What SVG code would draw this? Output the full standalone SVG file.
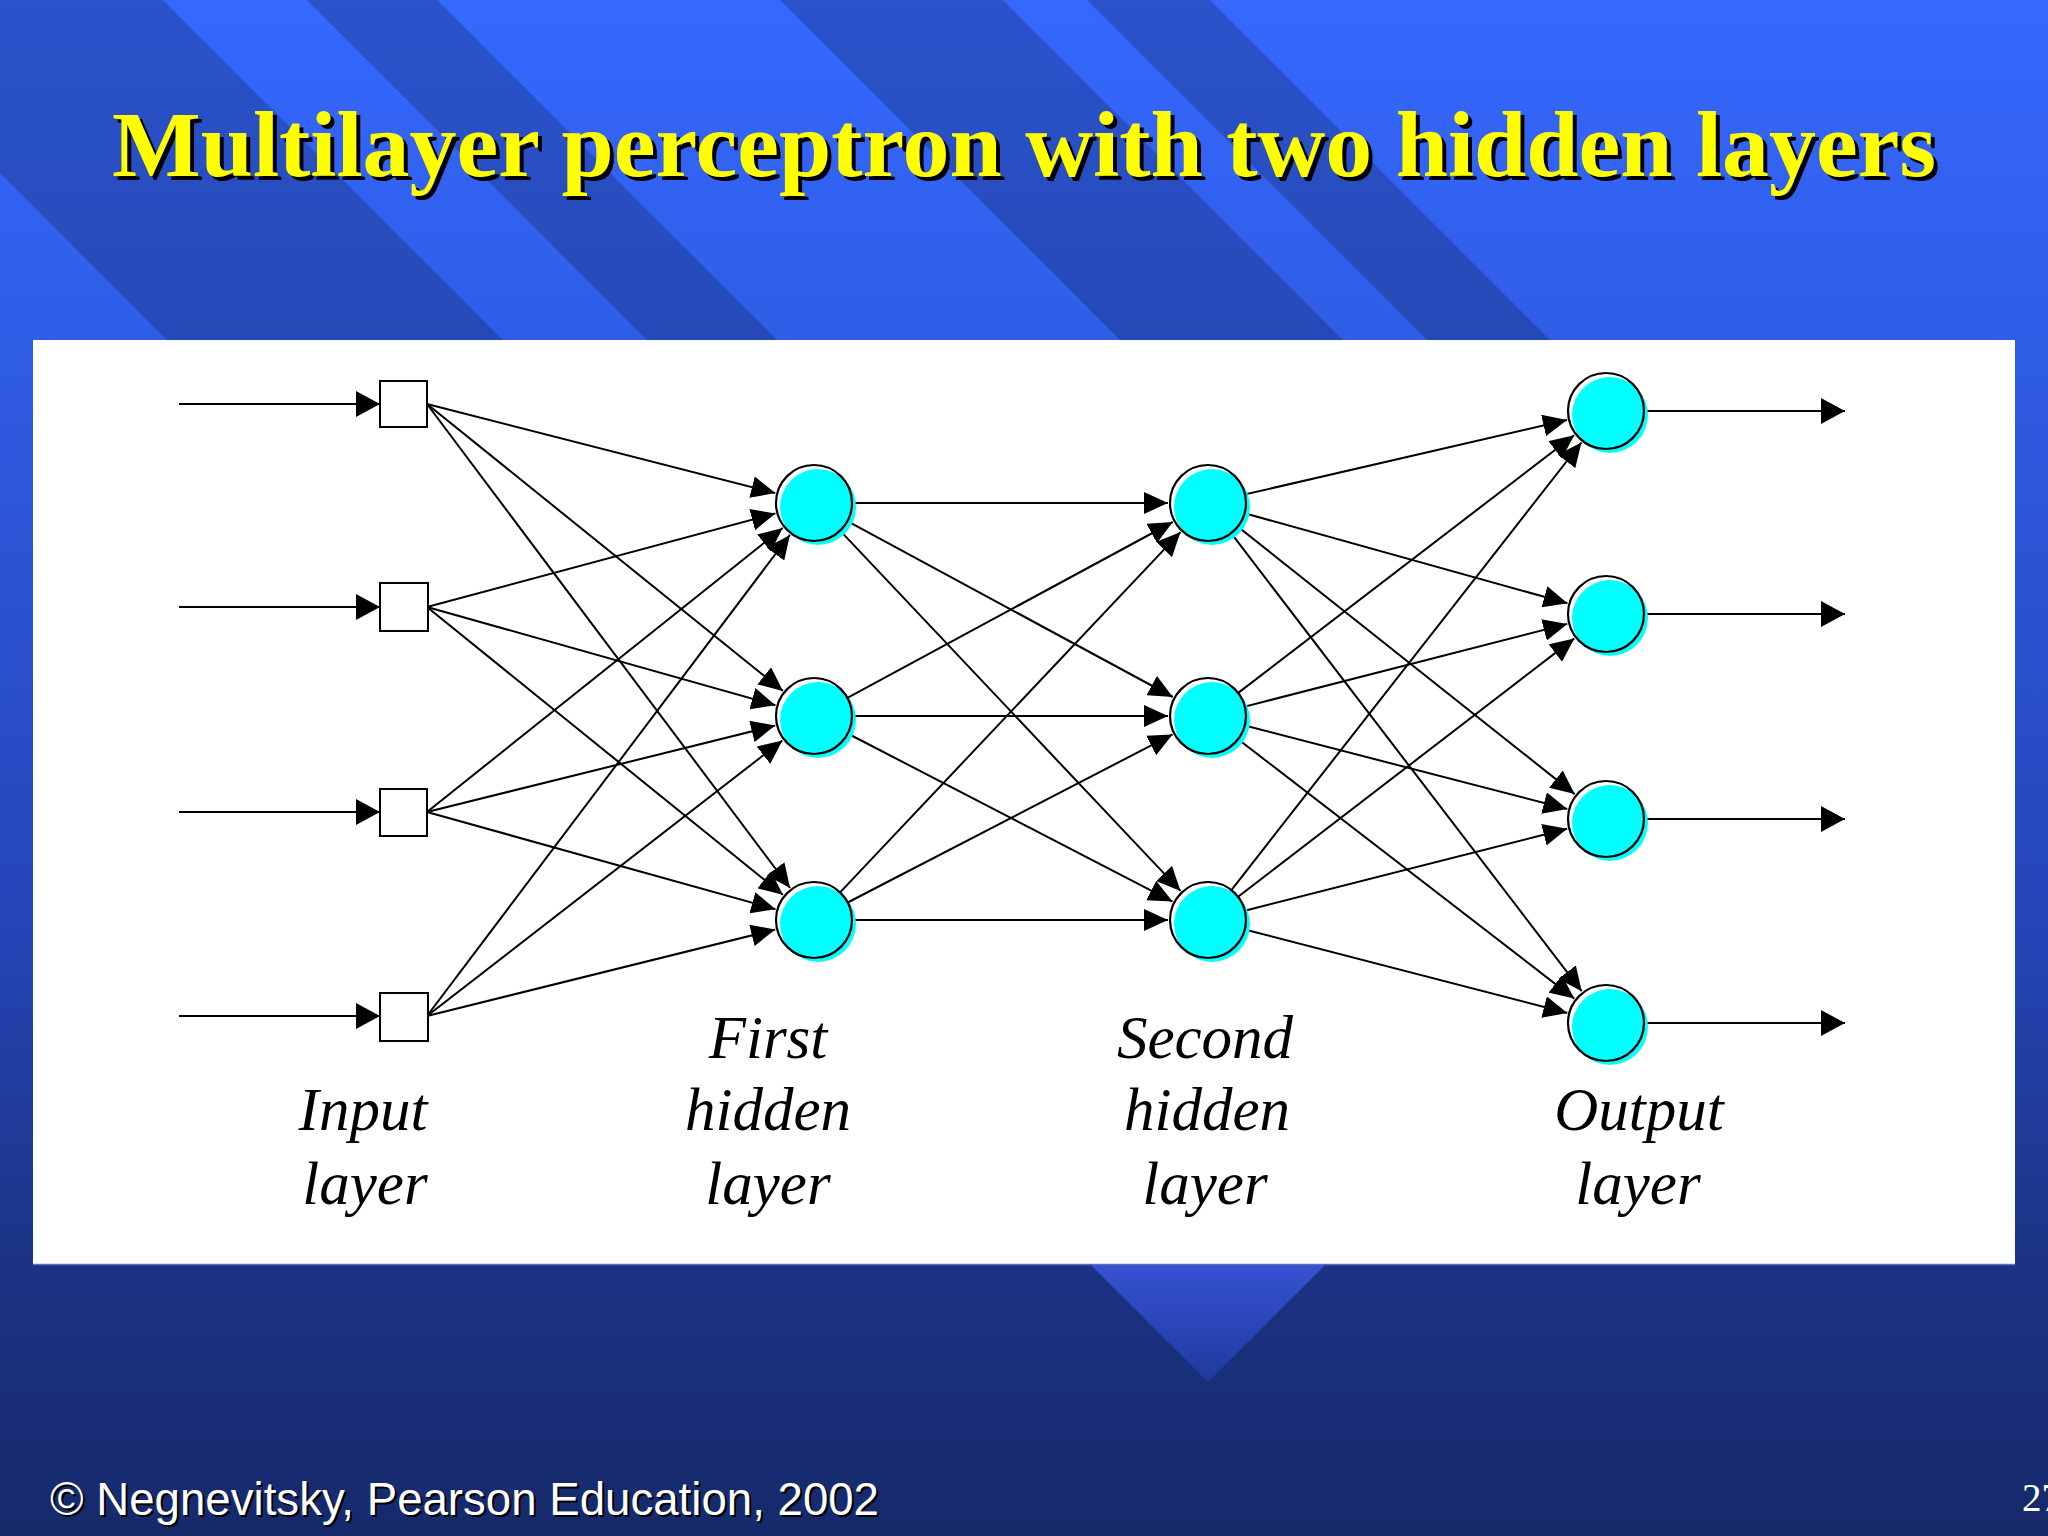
<svg xmlns="http://www.w3.org/2000/svg" width="2048" height="1536" viewBox="0 0 2048 1536">
<defs>
<linearGradient id="bg" x1="0" y1="0" x2="0" y2="1">
<stop offset="0" stop-color="#3568ff"/>
<stop offset="0.22" stop-color="#2f5de6"/>
<stop offset="0.6" stop-color="#2545b8"/>
<stop offset="0.82" stop-color="#1c3384"/>
<stop offset="1" stop-color="#16296a"/>
</linearGradient>
<linearGradient id="tri" x1="0" y1="0" x2="0" y2="1">
<stop offset="0" stop-color="#3652d2"/>
<stop offset="1" stop-color="#1f3a9c"/>
</linearGradient>
<marker id="ah" viewBox="0 0 24 22" refX="24" refY="11" markerWidth="24" markerHeight="22" markerUnits="userSpaceOnUse" orient="auto">
<path d="M0,0 L24,11 L0,22 z" fill="#000"/>
</marker>
<marker id="ahb" viewBox="0 0 24 26" refX="24" refY="13" markerWidth="24" markerHeight="26" markerUnits="userSpaceOnUse" orient="auto">
<path d="M0,0 L24,13 L0,26 z" fill="#000"/>
</marker>
</defs>
<style>
.band{fill:#000;fill-opacity:0.2}
.title{font-family:"Liberation Serif","Times New Roman",serif;font-weight:bold;font-size:94px}
.foot{font-family:"Liberation Sans",Arial,sans-serif;font-size:46px}
.lbl{font-family:"Liberation Serif","Times New Roman",serif;font-style:italic;font-size:61px;fill:#000;text-anchor:middle}
.sq{fill:#fff;stroke:#000;stroke-width:2}
.cy{fill:#00ffff}
.ring{fill:none;stroke:#000;stroke-width:2.2}
#connectors line{stroke:#000;stroke-width:2;marker-end:url(#ah)}
#connectors line.big{marker-end:url(#ahb)}
</style>

<!-- background -->
<rect x="0" y="0" width="2048" height="1536" fill="url(#bg)"/>
<g id="stripes">
<polygon class="band" points="-173,0 163,0 503,340 167,340"/>
<polygon class="band" points="307,0 437,0 777,340 647,340"/>
<polygon class="band" points="780,0 1003,0 1343,340 1120,340"/>
<polygon class="band" points="1087,0 1210,0 1550,340 1427,340"/>
</g>
<polygon id="chevron" points="1090,1264 1326,1264 1208,1382" fill="url(#tri)"/>

<!-- title -->
<g id="title">
<text class="title" x="116" y="180" fill="#000" textLength="1824" lengthAdjust="spacingAndGlyphs">Multilayer perceptron with two hidden layers</text>
<text class="title" x="112" y="176" fill="#ffff00" textLength="1824" lengthAdjust="spacingAndGlyphs">Multilayer perceptron with two hidden layers</text>
</g>

<!-- panel -->
<rect id="panel" x="33" y="340" width="1982" height="924" fill="#fff"/>
<line x1="33" y1="1264.5" x2="2015" y2="1264.5" stroke="#5a6fc0" stroke-width="1.5"/>

<g id="connectors">
<!-- input arrows -->
<line x1="179" y1="404" x2="380" y2="404" class="big"/>
<line x1="179" y1="607" x2="380" y2="607" class="big"/>
<line x1="179" y1="812" x2="380" y2="812" class="big"/>
<line x1="179" y1="1016" x2="380" y2="1016" class="big"/>
<!-- input -> hidden1 -->
<line x1="427" y1="404" x2="775.3" y2="493.1"/>
<line x1="427" y1="404" x2="782.9" y2="690.9"/>
<line x1="427" y1="404" x2="790" y2="888"/>
<line x1="427" y1="607" x2="775.4" y2="513.4"/>
<line x1="427" y1="607" x2="775.5" y2="705.2"/>
<line x1="427" y1="607" x2="782.9" y2="894.8"/>
<line x1="427" y1="812" x2="782.7" y2="528"/>
<line x1="427" y1="812" x2="775.2" y2="725.6"/>
<line x1="427" y1="812" x2="775.5" y2="909.2"/>
<line x1="427" y1="1016" x2="789.9" y2="534.9"/>
<line x1="427" y1="1016" x2="782.4" y2="740.5"/>
<line x1="427" y1="1016" x2="775.2" y2="929.6"/>
<!-- hidden1 -> hidden2 -->
<line x1="852" y1="503" x2="1168" y2="503"/>
<line x1="847.4" y1="521.1" x2="1172.8" y2="697"/>
<line x1="840.1" y1="530.6" x2="1180.5" y2="890.9"/>
<line x1="847.4" y1="697.9" x2="1172.8" y2="522"/>
<line x1="852" y1="716" x2="1168" y2="716"/>
<line x1="847.7" y1="733.5" x2="1172.5" y2="901.6"/>
<line x1="840.1" y1="892.4" x2="1180.5" y2="532.1"/>
<line x1="847.7" y1="902.5" x2="1172.5" y2="734.4"/>
<line x1="852" y1="920" x2="1168" y2="920"/>
<!-- hidden2 -> output -->
<line x1="1245" y1="494.4" x2="1567" y2="420"/>
<line x1="1244.6" y1="513.2" x2="1567.5" y2="603.3"/>
<line x1="1237.8" y1="526.6" x2="1574.7" y2="794.1"/>
<line x1="1231.1" y1="533.2" x2="1581.7" y2="991.2"/>
<line x1="1238.2" y1="692.9" x2="1574.2" y2="435.3"/>
<line x1="1244.8" y1="706.6" x2="1567.3" y2="623.9"/>
<line x1="1244.8" y1="725.5" x2="1567.3" y2="809"/>
<line x1="1238.1" y1="739.2" x2="1574.3" y2="998.6"/>
<line x1="1231.4" y1="890.1" x2="1581.4" y2="442.5"/>
<line x1="1238.1" y1="896.8" x2="1574.3" y2="638.4"/>
<line x1="1244.8" y1="910.7" x2="1567.2" y2="828.8"/>
<line x1="1244.8" y1="929.5" x2="1567.3" y2="1013"/>
<!-- output arrows -->
<line x1="1644" y1="411" x2="1845" y2="411" class="big"/>
<line x1="1644" y1="614" x2="1845" y2="614" class="big"/>
<line x1="1644" y1="819" x2="1845" y2="819" class="big"/>
<line x1="1644" y1="1023" x2="1845" y2="1023" class="big"/>
</g>

<!-- input layer -->
<g id="in1"><rect class="sq" x="380" y="381" width="47" height="46"/></g>
<g id="in2"><rect class="sq" x="380" y="583" width="48" height="48"/></g>
<g id="in3"><rect class="sq" x="380" y="789" width="47" height="47"/></g>
<g id="in4"><rect class="sq" x="380" y="993" width="48" height="48"/></g>

<!-- first hidden layer -->
<g id="h1a"><circle class="cy" cx="818" cy="507" r="38"/><circle class="ring" cx="814" cy="503" r="38"/></g>
<g id="h1b"><circle class="cy" cx="818" cy="720" r="38"/><circle class="ring" cx="814" cy="716" r="38"/></g>
<g id="h1c"><circle class="cy" cx="818" cy="924" r="38"/><circle class="ring" cx="814" cy="920" r="38"/></g>

<!-- second hidden layer -->
<g id="h2a"><circle class="cy" cx="1212" cy="507" r="38"/><circle class="ring" cx="1208" cy="503" r="38"/></g>
<g id="h2b"><circle class="cy" cx="1212" cy="720" r="38"/><circle class="ring" cx="1208" cy="716" r="38"/></g>
<g id="h2c"><circle class="cy" cx="1212" cy="924" r="38"/><circle class="ring" cx="1208" cy="920" r="38"/></g>

<!-- output layer -->
<g id="o1"><circle class="cy" cx="1610" cy="415" r="38"/><circle class="ring" cx="1606" cy="411" r="38"/></g>
<g id="o2"><circle class="cy" cx="1610" cy="618" r="38"/><circle class="ring" cx="1606" cy="614" r="38"/></g>
<g id="o3"><circle class="cy" cx="1610" cy="823" r="38"/><circle class="ring" cx="1606" cy="819" r="38"/></g>
<g id="o4"><circle class="cy" cx="1610" cy="1027" r="38"/><circle class="ring" cx="1606" cy="1023" r="38"/></g>

<g id="labels">
<text class="lbl" x="363" y="1130">Input</text>
<text class="lbl" x="365" y="1204">layer</text>
<text class="lbl" x="768" y="1058">First</text>
<text class="lbl" x="768" y="1130">hidden</text>
<text class="lbl" x="768" y="1204">layer</text>
<text class="lbl" x="1205" y="1058">Second</text>
<text class="lbl" x="1207" y="1130">hidden</text>
<text class="lbl" x="1205" y="1204">layer</text>
<text class="lbl" x="1639" y="1130">Output</text>
<text class="lbl" x="1638" y="1204">layer</text>
</g>

<g id="footer">
<text class="foot" x="52" y="1517" fill="#000" textLength="829" lengthAdjust="spacingAndGlyphs">© Negnevitsky, Pearson Education, 2002</text>
<text class="foot" x="50" y="1515" fill="#fff" textLength="829" lengthAdjust="spacingAndGlyphs">© Negnevitsky, Pearson Education, 2002</text>
<text x="2022" y="1511" font-family="Liberation Serif, Times New Roman, serif" font-size="39" fill="#fff">27</text>
</g>
</svg>
